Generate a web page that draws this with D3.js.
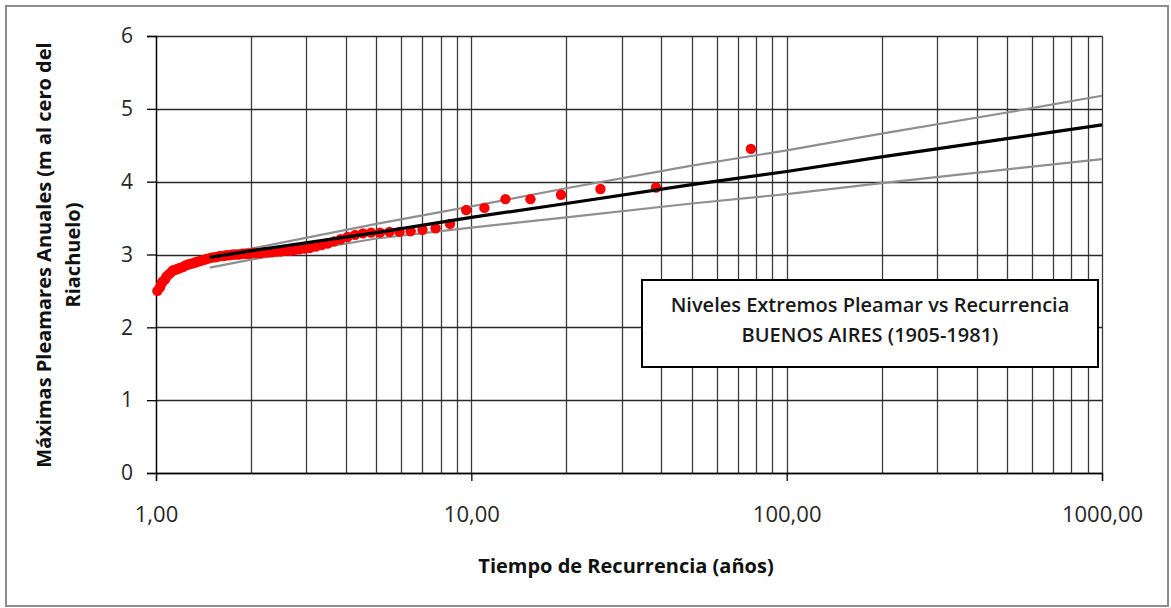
<!DOCTYPE html>
<html>
<head>
<meta charset="utf-8">
<script src="https://cdn.jsdelivr.net/npm/d3@7"></script>
<style>
  body { margin: 0; background: #fff; }
  svg { display: block; font-family: "Open Sans", sans-serif; }
</style>
</head>
<body>
<div id="chart"></div>
<script>
// tiempo de recurrencia (años) de cada máxima anual, ordenadas de mayor a menor
const recurrencia = [77.00, 38.50, 25.67, 19.25, 15.40, 12.83, 11.00, 9.63, 8.56, 7.70,
  7.00, 6.42, 5.92, 5.50, 5.13, 4.81, 4.53, 4.28, 4.05, 3.85,
  3.67, 3.50, 3.35, 3.21, 3.08, 2.96, 2.85, 2.75, 2.66, 2.57,
  2.48, 2.41, 2.33, 2.26, 2.20, 2.14, 2.08, 2.03, 1.97, 1.93,
  1.88, 1.83, 1.79, 1.75, 1.71, 1.67, 1.64, 1.60, 1.57, 1.54,
  1.51, 1.48, 1.45, 1.43, 1.40, 1.38, 1.35, 1.33, 1.31, 1.28,
  1.26, 1.24, 1.22, 1.20, 1.18, 1.17, 1.15, 1.13, 1.12, 1.10,
  1.08, 1.07, 1.05, 1.04, 1.03, 1.01];
// máximas pleamares anuales (m)
const pleamares = [4.45, 3.92, 3.90, 3.82, 3.76, 3.76, 3.64, 3.61, 3.42, 3.36,
  3.34, 3.32, 3.31, 3.31, 3.30, 3.30, 3.29, 3.27, 3.24, 3.21,
  3.18, 3.15, 3.13, 3.11, 3.09, 3.08, 3.07, 3.06, 3.05, 3.05,
  3.04, 3.04, 3.03, 3.03, 3.03, 3.02, 3.02, 3.02, 3.01, 3.01,
  3.01, 3.00, 3.00, 3.00, 2.99, 2.99, 2.98, 2.98, 2.97, 2.96,
  2.96, 2.95, 2.94, 2.93, 2.92, 2.91, 2.90, 2.89, 2.88, 2.87,
  2.86, 2.85, 2.83, 2.82, 2.81, 2.80, 2.79, 2.78, 2.76, 2.73,
  2.70, 2.66, 2.63, 2.60, 2.55, 2.50];

// ajuste y bandas de confianza
const ajusteT = [1.48, 2, 5, 10, 20, 50, 100, 200, 500, 1000];
const ajuste = [2.96, 3.05, 3.30, 3.51, 3.70, 3.96, 4.14, 4.34, 4.59, 4.78];
const superior = [2.99, 3.08, 3.42, 3.66, 3.91, 4.22, 4.43, 4.66, 4.95, 5.18];
const inferior = [2.82, 2.93, 3.22, 3.37, 3.51, 3.70, 3.83, 3.98, 4.17, 4.31];

const xTicks = [1, 10, 100, 1000];
const yTicks = [0, 1, 2, 3, 4, 5, 6];

const W = 1171, H = 608;
const x = d3.scaleLog().domain([1, 1000]).range([156, 1102]);
const y = d3.scaleLinear().domain([0, 6]).range([473, 36]);

const svg = d3.select("#chart").append("svg")
  .attr("width", W).attr("height", H);

// marco exterior
svg.append("rect")
  .attr("x", 6).attr("y", 6)
  .attr("width", 1162).attr("height", 600)
  .attr("fill", "#fff").attr("stroke", "#8c8c8c").attr("stroke-width", 2);

// grilla vertical (mayores y menores)
const vGrid = [];
for (let d = 1; d < 1000; d *= 10) for (let k = 1; k <= 10; k++) vGrid.push(d * k);
svg.append("g")
  .selectAll("line")
  .data(Array.from(new Set(vGrid)))
  .enter().append("line")
  .attr("x1", d => Math.round(x(d)) + 0.5).attr("x2", d => Math.round(x(d)) + 0.5)
  .attr("y1", y(6)).attr("y2", y(0))
  .attr("stroke", "#3c3c3c").attr("stroke-width", 1.3);

// grilla horizontal
svg.append("g")
  .selectAll("line")
  .data(yTicks)
  .enter().append("line")
  .attr("x1", x(1)).attr("x2", x(1000))
  .attr("y1", d => Math.round(y(d)) + 0.5).attr("y2", d => Math.round(y(d)) + 0.5)
  .attr("stroke", "#2a2a2a").attr("stroke-width", 1.3);

// eje y
const yAxis = svg.append("g")
  .attr("transform", `translate(${x(1)},0)`)
  .call(d3.axisLeft(y).tickValues(yTicks).tickSize(9).tickPadding(14).tickFormat(d3.format("d")));
yAxis.select(".domain").attr("stroke", "#000").attr("stroke-width", 1.3);
yAxis.selectAll(".tick line").attr("stroke", "#000").attr("stroke-width", 1.3);
yAxis.selectAll("text").attr("font-size", 21).attr("fill", "#262626")
  .attr("font-family", "Open Sans");

// eje x
const xAxis = svg.append("g")
  .attr("transform", `translate(0,${y(0)})`)
  .call(d3.axisBottom(x).tickValues(xTicks).tickSize(8).tickPadding(25)
    .tickFormat(d => d3.format(".2f")(d).replace(".", ",")));
xAxis.select(".domain").attr("stroke", "#000").attr("stroke-width", 1.3);
xAxis.selectAll(".tick line").attr("stroke", "#000").attr("stroke-width", 1.3);
xAxis.selectAll("text").attr("font-size", 22).attr("fill", "#262626")
  .attr("font-family", "Open Sans");

// curvas
const line = d3.line().x(d => x(d[0])).y(d => y(d[1]));
const curva = vals => ajusteT.map((t, i) => [t, vals[i]]);

svg.append("path").datum(curva(superior))
  .attr("d", line).attr("fill", "none").attr("stroke", "#8f8f8f").attr("stroke-width", 2.2);
svg.append("path").datum(curva(inferior))
  .attr("d", line).attr("fill", "none").attr("stroke", "#8f8f8f").attr("stroke-width", 2.2);

// puntos observados
svg.append("g")
  .selectAll("circle")
  .data(recurrencia.map((t, i) => [t, pleamares[i]]))
  .enter().append("circle")
  .attr("cx", d => x(d[0])).attr("cy", d => y(d[1]))
  .attr("r", 5.2).attr("fill", "#ff0000");

svg.append("path").datum(curva(ajuste))
  .attr("d", line).attr("fill", "none").attr("stroke", "#000").attr("stroke-width", 3.2);

// recuadro de título
const box = svg.append("g");
box.append("rect")
  .attr("x", 642).attr("y", 280).attr("width", 456).attr("height", 87)
  .attr("fill", "#fff").attr("stroke", "#000").attr("stroke-width", 2);
box.append("text")
  .attr("x", 870).attr("y", 312).attr("text-anchor", "middle")
  .attr("font-size", 20).attr("font-weight", 600).attr("fill", "#1a1a1a")
  .text("Niveles Extremos Pleamar vs Recurrencia");
box.append("text")
  .attr("x", 870).attr("y", 342).attr("text-anchor", "middle")
  .attr("font-size", 20).attr("font-weight", 600).attr("fill", "#1a1a1a")
  .text("BUENOS AIRES (1905-1981)");

// títulos de ejes
svg.append("text")
  .attr("x", 626).attr("y", 573).attr("text-anchor", "middle")
  .attr("font-size", 20).attr("font-weight", "bold").attr("fill", "#111")
  .text("Tiempo de Recurrencia (años)");

const yTitle = svg.append("text")
  .attr("transform", "translate(0,255) rotate(-90)")
  .attr("text-anchor", "middle")
  .attr("font-size", 20).attr("font-weight", "bold").attr("fill", "#111");
yTitle.append("tspan").attr("x", 0).attr("y", 51).text("Máximas Pleamares Anuales (m al cero del");
yTitle.append("tspan").attr("x", 0).attr("y", 80).text("Riachuelo)");
</script>
</body>
</html>
